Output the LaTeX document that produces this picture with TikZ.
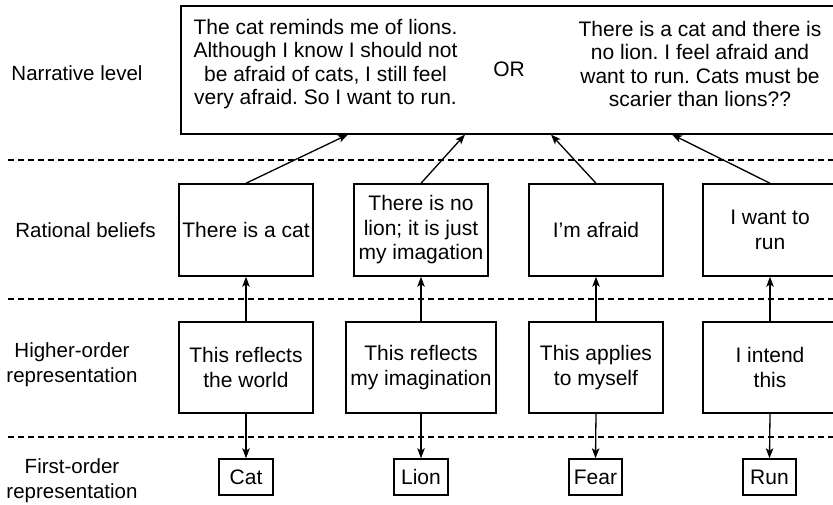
\documentclass[tikz,border=0pt]{standalone}
\usepackage{fontspec}
\setmainfont{Liberation Sans}
\usetikzlibrary{arrows.meta}
\frenchspacing
\newcommand\bodyfont{\fontsize{21pt}{24.5pt}\selectfont}
\newcommand\topfont{\fontsize{21pt}{23.5pt}\selectfont}
\newcommand\lblfont{\fontsize{20.5pt}{25pt}\selectfont}
\tikzset{
  box/.style={draw, line width=1.5pt, inner sep=0pt, align=center, font=\bodyfont, minimum width=134pt, minimum height=92pt},
  smallbox/.style={draw, line width=1.5pt, inner sep=0pt, font=\bodyfont, minimum width=54pt, minimum height=36pt},
  lbl/.style={align=center, inner sep=0pt, font=\lblfont},
  txt/.style={align=center, inner sep=0pt, font=\topfont},
  sepline/.style={dash pattern=on 6pt off 4pt, line width=1.8pt},
  arr/.style={line width=1.3pt, -{Stealth[length=10pt,width=7.5pt,inset=2.5pt]}},
}
\begin{document}
\begin{tikzpicture}[x=1pt,y=-1pt]
\clip (0,0) rectangle (833,504);
\fill[white] (0,0) rectangle (833,504);

% separators
\draw[sepline] (8,160) -- (833,160);
\draw[sepline] (8,299) -- (833,299);
\draw[sepline] (8,437) -- (833,437);

% left labels
\node[lbl] (l1) at (77,73) {Narrative level};
\node[lbl] (l2) at (85.5,230) {Rational beliefs};
\node[lbl] (l3) at (72,365) {Higher-order\\representation};
\node[lbl] (l4) at (72,481) {First-order\\representation};

% narrative box
\node[draw, line width=1.5pt, minimum width=658pt, minimum height=128pt, anchor=north west, inner sep=0pt] (top) at (180,5) {};
\node[txt] (ta) at (325.5,64) {The cat reminds me of lions.\\Although I know I should not\\be afraid of cats, I still feel\\very afraid. So I want to run.};
\node[inner sep=0pt, font=\bodyfont] (or) at (509,69) {OR};
\node[txt] (tb) at (700,64) {There is a cat and there is\\no lion. I feel afraid and\\want to run. Cats must be\\scarier than lions??};

% rational beliefs
\node[box] (r1) at (246,230) {There is a cat};
\node[box] (r2) at (421,230) {There is no\\lion; it is just\\my imagation};
\node[box] (r3) at (596,230) {I’m afraid};
\node[box] (r4) at (770,230) {I want to\\run};

% higher-order
\node[box, minimum height=91pt] (h1) at (246,367.5) {This reflects\\the world};
\node[box, minimum height=91pt, minimum width=150pt] (h2) at (421,367.5) {This reflects\\my imagination};
\node[box, minimum height=91pt] (h3) at (596,367.5) {This applies\\to myself};
\node[box, minimum height=91pt] (h4) at (770,367.5) {I intend\\this};

% first-order
\node[smallbox] (c1) at (246,477) {Cat};
\node[smallbox] (c2) at (421,477) {Lion};
\node[smallbox, minimum width=53pt] (c3) at (595.5,477) {Fear};
\node[smallbox, minimum width=53pt] (c4) at (769.5,477) {Run};

% arrow end points on the narrative box
\coordinate (e1) at ([xshift=168pt]top.south west);
\coordinate (e2) at ([xshift=285pt]top.south west);
\coordinate (e3) at ([xshift=371pt]top.south west);
\coordinate (e4) at ([xshift=492pt]top.south west);

\draw[arr] (r1.north) -- (e1);
\draw[arr] (r2.north) -- (e2);
\draw[arr] (r3.north) -- (e3);
\draw[arr] (r4.north) -- (e4);

\draw[arr] (h1.north) -- (r1.south);
\draw[arr] (h2.north) -- (r2.south);
\draw[arr] (h3.north) -- (r3.south);
\draw[arr] (h4.north) -- (r4.south);

\draw[arr] (h1.south) -- (c1.north);
\draw[arr] (h2.south) -- (c2.north);
\draw[arr] (h3.south) -- (c3.north);
\draw[arr] (h4.south) -- (c4.north);
\end{tikzpicture}
\end{document}
